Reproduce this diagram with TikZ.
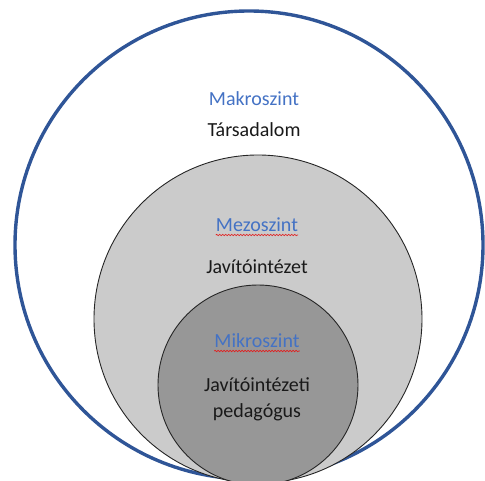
\documentclass[tikz,border=0pt]{standalone}
\usepackage{fontspec}
\setmainfont{Carlito}
\usetikzlibrary{decorations.pathmorphing}
\definecolor{ring}{HTML}{2F5597}
\definecolor{mezofill}{HTML}{CBCBCB}
\definecolor{mikrofill}{HTML}{979797}
\definecolor{level}{HTML}{4472C4}
\definecolor{squig}{HTML}{E02020}
\tikzset{
  outer/.style={draw=ring, line width=3.4pt},
  disc/.style={draw=black!85, line width=0.9pt},
  lvl/.style={font=\fontsize{20}{24}\selectfont, text=level, inner sep=0pt, anchor=base},
  txt/.style={font=\fontsize{20}{24}\selectfont, text=black!90, inner sep=0pt, anchor=base},
  squiggle/.style={draw=squig, line width=0.7pt, decorate,
    decoration={snake, segment length=3pt, amplitude=0.7pt}}
}

\begin{document}
\begin{tikzpicture}[x=1pt, y=-1pt]
  \useasboundingbox (0,0) rectangle (485,481);
  % the three levels
  \draw[outer] (249,245) circle[radius=234pt];
  \draw[disc, fill=mezofill] (258,319) circle[radius=164pt];
  \draw[disc, fill=mikrofill] (258,385) circle[radius=100pt];

  \node[lvl] (makro) at (254,106) {Makroszint};
  \node[txt] (tarsadalom) at (254,137) {Társadalom};

  \node[lvl] (mezo) at (257,232) {Mezoszint};
  \node[txt] (intezet) at (257,274) {Javítóintézet};

  \node[lvl] (mikro) at (257,348) {Mikroszint};
  \node[txt] (pedagogus1) at (257,391) {Javítóintézeti};
  \node[txt] (pedagogus2) at (257,417) {pedagógus};

  \draw[squiggle] ([yshift=-3pt]mezo.base west) -- ([yshift=-3pt]mezo.base east);
  \draw[squiggle] ([yshift=-3pt]mikro.base west) -- ([yshift=-3pt]mikro.base east);
\end{tikzpicture}
\end{document}
